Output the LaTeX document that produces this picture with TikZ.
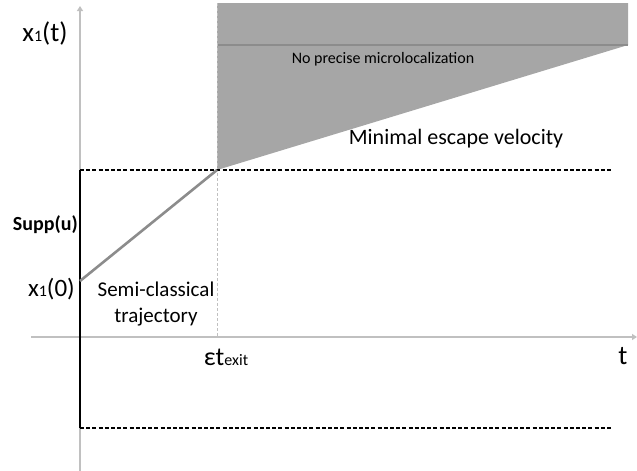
\documentclass[tikz,border=0pt]{standalone}
\usepackage{fontspec}
\setmainfont{Carlito}
\usetikzlibrary{arrows.meta}

\definecolor{axisgray}{HTML}{C0C0C0}
\definecolor{zonegray}{HTML}{A6A6A6}
\definecolor{trajgray}{HTML}{8C8C8C}

% small index sitting on the baseline
\newcommand{\lowidx}[1]{{\fontsize{16}{18}\selectfont #1}}

\tikzset{
  axis/.style={draw=axisgray,line width=1.8pt,-{Triangle[length=5pt,width=6pt]}},
  level/.style={draw=black,line width=1.1pt,dash pattern=on 4pt off 2.2pt},
  guide/.style={draw=axisgray,line width=1pt,dash pattern=on 3pt off 2pt},
  lbl/.style={inner sep=0pt,text=black}
}

\begin{document}
\begin{tikzpicture}[x=1pt,y=-1pt]
        \useasboundingbox (0,0) rectangle (637,471);

        % points of the picture
        \coordinate (vbot) at (80,471);
        \coordinate (vtop) at (80,6);
        \coordinate (hleft) at (31,337);
        \coordinate (hright) at (637,337);
        \coordinate (x0) at (80,281);
        \coordinate (exit) at (217,170);
        \coordinate (exitaxis) at (217,337);
        \coordinate (guidetop) at (217,3);
        \coordinate (sup) at (80,170);
        \coordinate (inf) at (80,428);
        \coordinate (supend) at (612,170);
        \coordinate (infend) at (612,428);
        \coordinate (zonetl) at (217,3);
        \coordinate (zonetr) at (628,3);
        \coordinate (zonemr) at (628,45);
        \coordinate (zoneml) at (217,45);

        % escape zone
        \fill[zonegray] (zonetl) -- (zonetr) -- (zonemr) -- (exit) -- cycle;
        \draw[trajgray,line width=1.4pt] (zoneml) -- (zonemr);

        % axes
        \draw[axis] (vbot) -- (vtop);
        \draw[axis] (hleft) -- (hright);
        \draw[guide] (guidetop) -- (exitaxis);

        % support and levels
        \draw[level] (sup) -- (supend);
        \draw[level] (inf) -- (infend);
        \draw[black,line width=2.6pt] (sup) -- (inf);
        \draw[trajgray,line width=2.6pt] (x0) -- (exit);

        \begin{scope}[every node/.style={lbl}]
          \node[font=\fontsize{27}{30}\selectfont] (xt) at (45,33) {x\lowidx{1}(t)};
          \node[font=\bfseries\fontsize{20}{24}\selectfont,anchor=east] (supp) at (78,225) {Supp(u)};
          \node[font=\fontsize{25}{28}\selectfont,anchor=east] (xzero) at (75,289) {x\lowidx{1}(0)};
          \node[font=\fontsize{21}{26}\selectfont,align=center] (semi) at (156,304) {Semi-classical\\trajectory};
          \node[font=\fontsize{26}{28}\selectfont] (eps) at (226,357) {εt\lowidx{exit}};
          \node[font=\fontsize{27}{30}\selectfont] (tlab) at (623,356) {t};
          \node[font=\fontsize{16}{19}\selectfont] (noprec) at (383,59) {No precise microlocalization};
          \node[font=\fontsize{22}{26}\selectfont] (minesc) at (456,139) {Minimal escape velocity};
        \end{scope}

      \end{tikzpicture}
\end{document}
